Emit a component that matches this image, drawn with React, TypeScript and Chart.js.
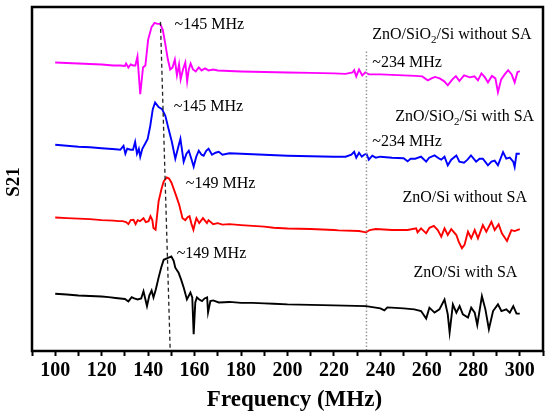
import { useEffect, useRef } from 'react'
import { Chart, registerables } from 'chart.js'

Chart.register(...registerables)

// S21 values in arbitrary offset units (traces stacked), frequency in MHz
const magentaFreq = [100, 105, 110, 115, 120, 125, 128, 130, 130.5, 131.5, 132.5, 133.5, 134.5, 135.4, 136.6, 137.8, 138.8, 140, 141.5, 142.8, 144, 145.2, 146.3, 147.3, 148.5, 149.5, 150.5, 151.5, 152.4, 153.3, 154, 155, 156, 156.8, 157.5, 158.3, 159.3, 160.5, 161.8, 163, 164.5, 166, 168, 170, 175, 180, 190, 200, 210, 220, 225, 228, 228.7, 229.6, 230.8, 232.2, 233.5, 235, 240, 245, 250, 255, 258, 260.4, 262, 263.5, 265.5, 267.5, 269, 271, 272.5, 274, 276, 278.5, 280.5, 282, 283.5, 285, 286.3, 288, 289.5, 290.6, 292, 293.5, 295, 296.5, 297.8, 299, 300]
const magentaS21 = [291, 290.5, 290, 289.5, 289, 288, 288, 287.5, 290, 286, 289, 288, 288, 297, 259, 286, 288, 314, 327, 331, 330, 330, 324, 311, 294, 284, 286, 294, 278, 289, 274, 284, 291, 272, 284, 290, 284, 282, 286, 283, 285, 283, 284, 283, 282.5, 282, 281.5, 281, 280.5, 280, 279.5, 281, 283.3, 277, 284, 278, 281, 279, 279, 278.5, 278, 277.5, 277, 273, 275, 276.5, 275, 272, 268, 274, 277.3, 272.3, 278, 276, 277, 273, 280, 276, 271, 277.5, 275, 261, 274, 279, 283.3, 279, 271, 281.3, 282.3]

const blueFreq = [100, 105, 110, 115, 120, 123, 126, 128, 129.4, 130.2, 131, 132.5, 133.5, 134.4, 135.2, 136, 136.6, 137.5, 138.7, 139.8, 140.9, 142, 143, 144.5, 146, 147.4, 148.8, 150.2, 151.7, 153, 153.9, 155.3, 156.5, 157.5, 158.6, 159.6, 160.7, 161.8, 163, 163.9, 165, 166, 167.5, 169, 170.4, 172, 175, 180, 185, 190, 195, 200, 210, 220, 225, 227.5, 228.7, 229.6, 230.8, 232, 233, 234, 235, 236.5, 238, 240, 245, 250, 251.7, 253, 255, 257.5, 259.7, 261, 263.3, 265.4, 266.2, 267.6, 269, 270.5, 272.7, 274, 276, 277.5, 279, 281.2, 282.7, 284.1, 286.3, 287.8, 289.2, 290.6, 292.8, 294.2, 295.7, 297.2, 297.8, 298.6, 300]
const blueS21 = [208, 207, 206, 205.5, 204.5, 204, 203.5, 203, 207, 199, 204, 203, 203, 211, 199, 204, 196, 204, 209, 214, 227, 244, 250.7, 246, 244, 237.3, 224, 211, 194, 206, 214, 191, 199, 202, 194, 186, 196, 202, 198, 197, 202, 204, 198, 200, 201, 198, 199.5, 199, 198.5, 198, 197.5, 197, 196.5, 196, 196, 198, 201, 195, 200, 196, 198, 199, 193, 197, 195, 196, 195, 194.5, 191.3, 194, 194, 196, 191, 195, 197.3, 194, 193, 196, 187.3, 193, 197.3, 191, 190, 193, 197.3, 191, 194, 194, 187.3, 191, 192, 187.3, 200.7, 194, 195, 191, 185.7, 199, 199]

const redFreq = [100, 105, 110, 115, 120, 125, 127.2, 129, 130.5, 131.5, 132.5, 133.7, 134.6, 135.5, 136.5, 138, 139, 140.2, 141, 141.8, 142.3, 143.2, 144.5, 145.8, 146.7, 148, 149, 150, 151.2, 152.3, 153.4, 154.8, 156, 157, 157.8, 158.7, 159.5, 160.2, 160.8, 162, 163.6, 165.3, 166, 168, 170, 172, 175, 180, 190, 194, 200, 210, 220, 222, 230.8, 233.8, 235.4, 238, 245, 251.7, 255.4, 256, 257.5, 259.7, 261.1, 263, 264.7, 266.2, 267.6, 269, 270.5, 272.7, 273.7, 275.1, 276.2, 277.7, 279.1, 280.6, 282, 284.1, 285.6, 287.8, 289.2, 290.9, 292.3, 294.5, 296.4, 297.8, 300]
const redS21 = [134.7, 134, 133.5, 133, 132, 131.5, 131, 131, 130, 128, 132, 132.3, 128, 132, 131, 134, 130, 131, 136, 132, 124, 122.3, 151, 164, 171, 175, 174, 170, 162.3, 155, 147.3, 134, 132, 135, 136, 128, 122.3, 129, 134, 129, 134, 129, 132, 128, 129, 127.5, 128, 127, 125.5, 124.3, 123.5, 123, 122, 121.7, 121, 119.7, 122, 123, 122, 122, 123.7, 119.7, 123.7, 118.7, 124.3, 126.3, 122, 115.3, 123.7, 117, 123, 117, 110.3, 103.7, 107, 120.3, 113.7, 122, 113.7, 127, 120.3, 130.3, 122, 127.7, 118.7, 111, 122, 121, 123]

const blackFreq = [100, 105, 110, 115, 120, 123, 126, 128, 130, 131.5, 132.9, 134, 135.5, 137, 138, 139.5, 140.5, 141.5, 142.3, 143.3, 144.5, 145.6, 146.7, 148.8, 150, 151, 151.7, 153.1, 154.2, 155.3, 156.7, 158.2, 159, 159.6, 160.3, 161, 162, 163.2, 164.3, 165.4, 165.8, 166.8, 168, 170.4, 175, 180, 185, 190, 194, 200, 210, 220, 233.8, 240, 241.7, 243, 250, 254.6, 257.5, 259.7, 261.1, 263.3, 265.4, 267.6, 269, 269.8, 271.2, 272.7, 274.1, 275.5, 277.7, 279.1, 280.6, 281.7, 283.7, 285.2, 286.7, 288.5, 290.6, 292.1, 294.2, 295.7, 297.2, 298.6, 300]
const blackS21 = [57.7, 57, 56, 55.5, 55, 54.3, 53.5, 53, 52.5, 50, 54.3, 53, 52, 53, 60.3, 45.3, 56, 61, 54, 62, 74, 84, 92, 94.3, 95.3, 91, 84, 79, 72, 64, 52, 59, 54, 17, 49, 54, 52, 50.3, 53, 54, 39, 50.3, 51, 49, 49.5, 48.5, 48.5, 48, 47.7, 47, 46.5, 46, 45.3, 43, 41, 44, 43, 42, 40.3, 32.7, 43.7, 38.7, 42, 52, 37, 18.7, 47, 38.7, 45.3, 37, 33.7, 43.7, 38.7, 26.3, 55.3, 42, 22, 40.3, 47, 40.3, 42, 38.7, 45.3, 37.7, 37.7]

// guide lines through the resonance peaks
const peakGuideFreq = [145.3, 149.5]
const peakGuideS21 = [332, 0]
const spurGuideFreq = [234, 234]
const spurGuideS21 = [302, 0]

const xTickValues = [100, 120, 140, 160, 180, 200, 220, 240, 260, 280, 300]

const notes = [
  { text: '~145 MHz', f: 151.4, v: 329 },
  { text: '~145 MHz', f: 151, v: 246 },
  { text: '~149 MHz', f: 156.2, v: 169 },
  { text: '~149 MHz', f: 152.3, v: 98 },
  { text: 'ZnO/SiO₂/Si without SA', f: 236.5, v: 319 },
  { text: '~234 MHz', f: 236.5, v: 291 },
  { text: 'ZnO/SiO₂/Si with SA', f: 246.4, v: 236 },
  { text: '~234 MHz', f: 236.5, v: 211 },
  { text: 'ZnO/Si without SA', f: 249.5, v: 155 },
  { text: 'ZnO/Si with SA', f: 254.2, v: 79 },
]

const SERIF = '"Liberation Serif", "Times New Roman", serif'

const pts = (fs: number[], vs: number[]) => fs.map((f, i) => ({ x: f, y: vs[i] }))

const overlay = {
  id: 'overlay',
  afterDraw(chart: any) {
    const { ctx, chartArea: a, scales } = chart
    const x = scales.x, y = scales.y
    ctx.save()
    ctx.strokeStyle = '#000'
    ctx.lineWidth = 2.5
    ctx.strokeRect(a.left, a.top, a.right - a.left, a.bottom - a.top)

    ctx.fillStyle = '#000'
    ctx.textBaseline = 'middle'
    ctx.textAlign = 'left'
    for (const n of notes) {
      let px = x.getPixelForValue(n.f)
      const py = y.getPixelForValue(n.v)
      const parts = n.text.split('₂')
      parts.forEach((p, i) => {
        ctx.font = `16px ${SERIF}`
        ctx.fillText(p, px, py)
        px += ctx.measureText(p).width
        if (i < parts.length - 1) {
          ctx.font = `11px ${SERIF}`
          ctx.fillText('2', px, py + 5)
          px += ctx.measureText('2').width
        }
      })
    }

    // axis titles
    ctx.textAlign = 'center'
    ctx.font = `bold 23px ${SERIF}`
    ctx.fillText('Frequency (MHz)', x.getPixelForValue(203), 400)

    ctx.translate(14, (a.top + a.bottom) / 2 + 3)
    ctx.rotate(-Math.PI / 2)
    ctx.font = `bold 19px ${SERIF}`
    ctx.fillText('S21', 0, 0)
    ctx.restore()
  },
}

export default function App() {
  const ref = useRef<HTMLCanvasElement>(null)
  useEffect(() => {
    if (!ref.current) return
    const trace = (label: string, fs: number[], vs: number[], color: string) => ({
      label, data: pts(fs, vs), borderColor: color, borderWidth: 1.9, pointRadius: 0, tension: 0, fill: false,
    })
    const chart = new Chart(ref.current, {
      type: 'line',
      data: {
        datasets: [
          { label: 'peak', data: pts(peakGuideFreq, peakGuideS21), borderColor: '#222', borderWidth: 1.3, borderDash: [4, 3], pointRadius: 0 },
          { label: 'spur', data: pts(spurGuideFreq, spurGuideS21), borderColor: '#999', borderWidth: 1.5, borderDash: [1.5, 2], pointRadius: 0 },
          trace('ZnO/SiO2/Si without SA', magentaFreq, magentaS21, '#ff00ff'),
          trace('ZnO/SiO2/Si with SA', blueFreq, blueS21, '#0000ff'),
          trace('ZnO/Si without SA', redFreq, redS21, '#ff0000'),
          trace('ZnO/Si with SA', blackFreq, blackS21, '#000000'),
        ],
      },
      options: {
        animation: false,
        responsive: true,
        maintainAspectRatio: false,
        layout: { padding: { top: 7, left: 32, right: 7, bottom: 28 } },
        plugins: { legend: { display: false }, tooltip: { enabled: false } },
        scales: {
          x: {
            type: 'linear',
            min: 90,
            max: 310,
            border: { display: false },
            grid: { drawOnChartArea: false, drawTicks: true, tickLength: 5, tickColor: '#000', tickWidth: 2 },
            ticks: {
              stepSize: 10,
              autoSkip: false,
              maxRotation: 0,
              padding: 3,
              color: '#000',
              font: { family: SERIF, size: 20, weight: 'bold' },
              callback: (v: any) => (xTickValues.includes(Number(v)) ? String(v) : ''),
            },
          },
          y: { type: 'linear', min: 0, max: 347, display: false },
        },
      },
      plugins: [overlay],
    })
    return () => chart.destroy()
  }, [])
  return (
    <div style={{ position: 'fixed', left: 0, top: 0, width: 550, height: 414, background: '#fff' }}>
      <canvas ref={ref} />
    </div>
  )
}
